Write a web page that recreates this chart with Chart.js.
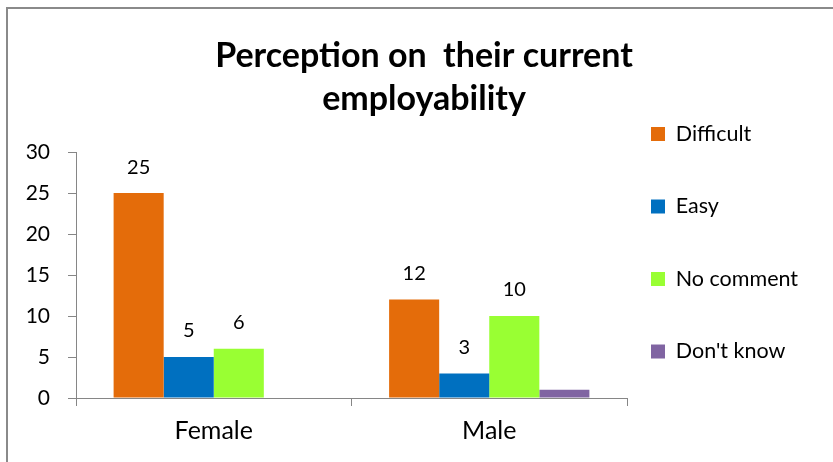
<!DOCTYPE html>
<html>
<head>
<meta charset="utf-8">
<title>Perception on their current employability</title>
<script src="https://cdn.jsdelivr.net/npm/chart.js@4/dist/chart.umd.min.js"></script>
<style>
  html, body { margin: 0; padding: 0; background: #fff; }
  body { width: 833px; height: 462px; overflow: hidden; position: relative; }
  /* outer chart frame, only top and left edges fall inside the page */
  .frame { position: absolute; left: 6px; top: 7px; width: 900px; height: 500px;
           border-left: 2px solid #8a8a8a; border-top: 2px solid #8a8a8a; }
  #employabilityChart { position: absolute; left: 0; top: 0; }
</style>
</head>
<body>
<div class="frame"></div>
<canvas id="employabilityChart" width="833" height="462"></canvas>
<script>
const groups = ['Female', 'Male'];
const seriesNames = ['Difficult', 'Easy', 'No comment', "Don't know"];
const difficult = [25, 12];
const easy = [5, 3];
const noComment = [6, 10];
const dontKnow = [0, 1];
const titleLines = ['Perception on  their current', 'employability'];
const yMin = 0;
const yMax = 30;
const yStep = 5;

const seriesColors = ['#E46C0A', '#0070C0', '#99FF33', '#8064A2'];
const axisColor = '#868686';
const plotRight = 627;   // where the plot stops and the legend starts

Chart.defaults.font.family = 'Lato';
Chart.defaults.color = '#000';

// numbers above bars (the "Don't know" series has none)
const valueLabels = {
    id: 'valueLabels',
    afterDatasetsDraw(chart) {
        const ctx = chart.ctx;
        ctx.save();
        ctx.font = '20px Lato';
        ctx.fillStyle = '#000';
        ctx.textAlign = 'center';
        ctx.textBaseline = 'middle';
        chart.data.datasets.forEach((ds, i) => {
            if (!ds.showValues) return;
            chart.getDatasetMeta(i).data.forEach((bar, j) => {
                ctx.fillText(String(ds.data[j]), bar.x, bar.y - 26);
            });
        });
        ctx.restore();
    }
};

const makeSet = (idx, values, showValues) => ({
    label: seriesNames[idx],
    data: values,
    backgroundColor: seriesColors[idx],
    borderWidth: 0,
    showValues: showValues,
});

new Chart(document.getElementById('employabilityChart'), {
    type: 'bar',
    data: {
        labels: groups,
        datasets: [
            makeSet(0, difficult, true),
            makeSet(1, easy, true),
            makeSet(2, noComment, true),
            makeSet(3, dontKnow, false),
        ],
    },
    options: {
        responsive: false,
        animation: false,
        devicePixelRatio: 1,
        layout: { padding: { left: 15, right: 0, top: 0, bottom: 0 } },
        datasets: { bar: { barPercentage: 1, categoryPercentage: 0.727 } },
        plugins: {
            tooltip: { enabled: false },
            title: {
                display: true,
                text: titleLines,
                color: '#000',
                font: { size: 34, weight: 'bold', lineHeight: 1.27 },
                padding: { top: 34.5, bottom: 31.2 },
            },
            legend: {
                position: 'right',
                align: 'start',
                maxWidth: 260,
                title: { display: true, text: '', font: { size: 10, lineHeight: 1 }, padding: { top: 89.25, bottom: 0 } },
                labels: {
                    color: '#000',
                    font: { size: 21.5, lineHeight: 2.256 },
                    boxWidth: 14,
                    boxHeight: 14,
                    padding: 24,
                    // one-line arrays let the font lineHeight set the row spacing
                    generateLabels(chart) {
                        const items = Chart.defaults.plugins.legend.labels.generateLabels(chart);
                        return items.map(it => Object.assign(it, { text: [it.text], lineWidth: 0 }));
                    },
                },
            },
        },
        scales: {
            x: {
                grid: { drawOnChartArea: false, tickLength: 8, color: axisColor, offset: true },
                border: { color: axisColor },
                ticks: { font: { size: 25, lineHeight: 1.2 }, padding: 10, color: '#000' },
                afterFit(scale) { scale.height = 64; },
            },
            y: {
                min: yMin,
                max: yMax,
                grid: { drawOnChartArea: false, tickLength: 8, color: axisColor },
                border: { color: axisColor },
                ticks: { stepSize: yStep, font: { size: 21 }, padding: 18, color: '#000' },
                afterFit(scale) { scale.width = 61; },
            },
            // empty spacer right of the legend
            spacer: {
                type: 'linear',
                position: 'right',
                weight: 2000,
                grid: { display: false },
                border: { display: false },
                ticks: { display: false },
                afterFit(scale) {
                    const lg = scale.chart.legend;
                    scale.width = Math.max(0, scale.chart.width - plotRight - (lg ? lg.width : 0));
                },
            },
        },
    },
    plugins: [valueLabels],
});
</script>
</body>
</html>
